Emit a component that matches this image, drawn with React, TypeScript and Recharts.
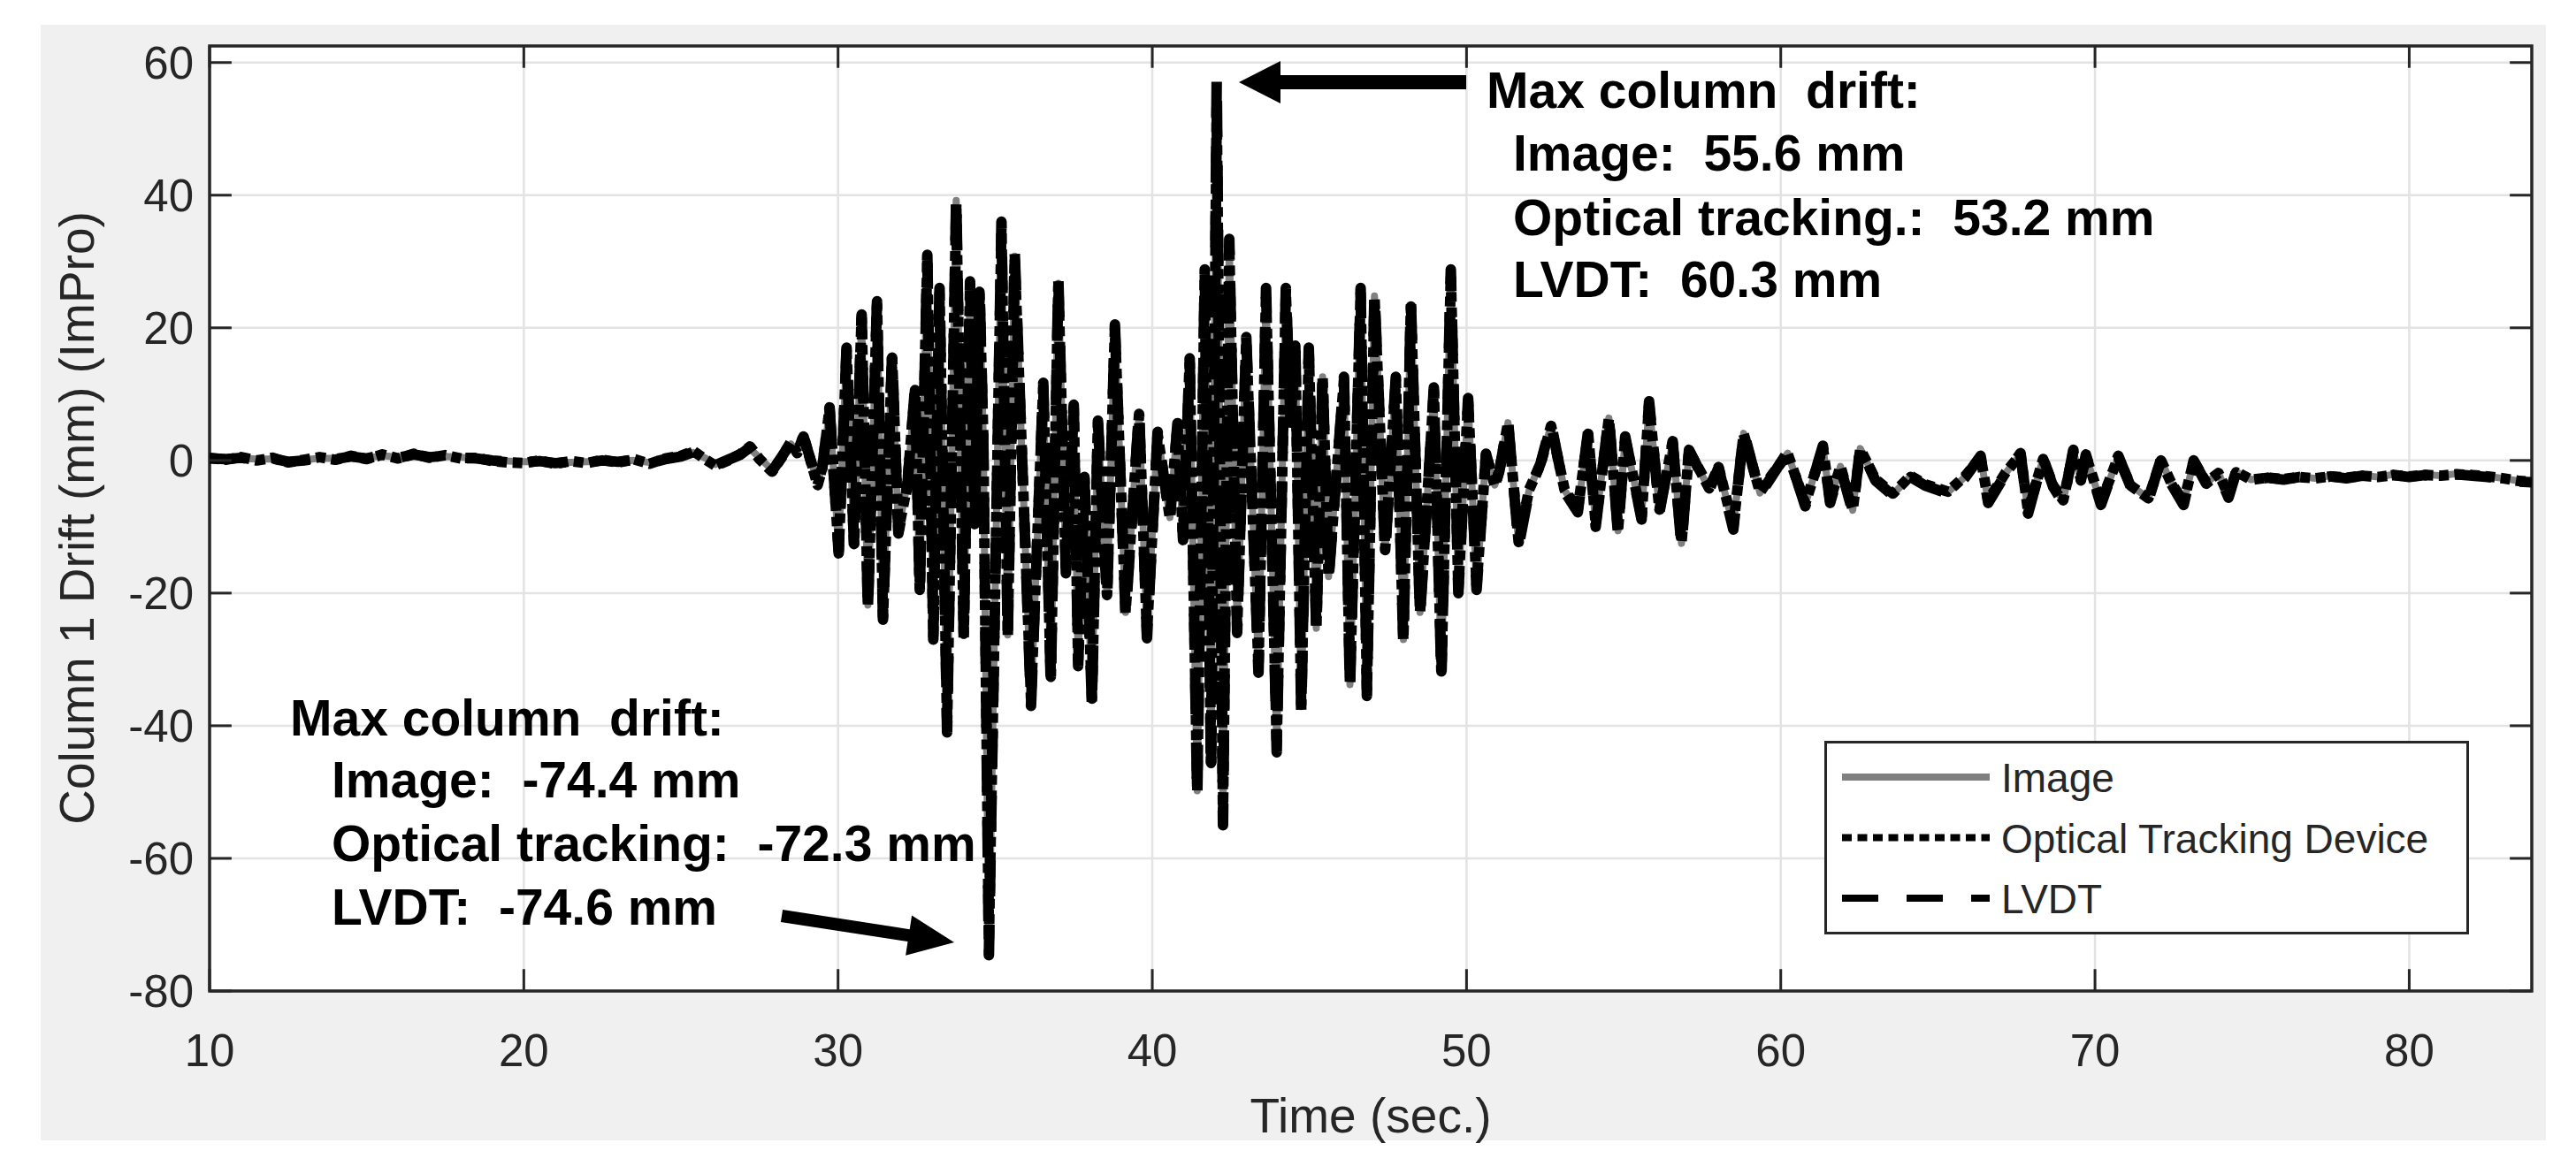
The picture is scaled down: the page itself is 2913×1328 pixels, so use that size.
import React from 'react';
import {
  LineChart,
  Line,
  XAxis,
  YAxis,
  CartesianGrid,
  ReferenceLine,
  ReferenceArea,
  Legend,
} from 'recharts';

// time (s) of each sample, shared by the three records
const time = [
  10, 10.5, 11, 11.5, 12, 12.5, 13, 13.5, 14, 14.5,
  15, 15.5, 16, 16.5, 17, 17.5, 18, 18.5, 19, 19.5,
  20, 20.5, 21, 21.5, 22, 22.5, 23, 23.5, 24, 24.5,
  25, 25.4, 25.8, 26.1, 26.5, 26.9, 27.2, 27.5, 27.9, 28.2,
  28.5, 28.7, 28.9, 29.1, 29.35, 29.5,
  29.73, 30.02, 30.27, 30.51, 30.75, 30.95, 31.24, 31.43, 31.72, 31.92,
  32.2, 32.45, 32.6, 32.84, 33.03, 33.23, 33.47, 33.76, 34.0, 34.2,
  34.35, 34.5, 34.62, 34.8, 35.2, 35.4, 35.62, 36.14, 36.53, 36.77,
  37.01, 37.25, 37.5, 37.64, 37.84, 38.08, 38.27, 38.56, 38.81, 39.15,
  39.58, 39.83, 40.17, 40.56, 40.8, 40.98, 41.19, 41.43, 41.67, 41.87,
  42.05, 42.25, 42.45, 42.7, 42.99, 43.38, 43.62, 43.96, 44.25, 44.4,
  44.55, 44.74, 44.98, 45.22, 45.42, 45.61, 45.85, 46.1, 46.29, 46.63,
  46.83, 47.07, 47.41, 47.75, 47.99, 48.23, 48.52, 48.75, 48.96, 49.2,
  49.5, 49.74, 50.05, 50.32, 50.62, 50.9, 51.05, 51.32, 51.66, 51.99,
  52.36, 52.69, 53.12, 53.54, 53.87, 54.11, 54.53, 54.82, 55.05, 55.57,
  55.81, 56.14, 56.56, 56.84, 57.08, 57.46, 57.72, 58.02, 58.49, 58.82,
  59.34, 59.7, 60.22, 60.78, 61.34, 61.57, 61.9, 62.29, 62.53, 63.01,
  63.57, 64.13, 64.6, 65.32, 65.88, 66.36, 66.6, 67.16, 67.63, 67.87,
  68.35, 68.67, 68.99, 69.31, 69.55, 69.71, 70.19, 70.74, 71.14, 71.7,
  72.1, 72.42, 72.82, 73.14, 73.54, 73.93, 74.25, 74.49, 74.97, 75.5,
  76, 76.5, 77, 77.5, 78, 78.5, 79, 79.5, 80, 80.5,
  81, 81.5, 82, 82.5, 83, 83.5, 83.9,
];

// column drift (mm), image processing
const imageDrift = [
  0.2, 0.3, 0.3, 0.2, 0.2, -0.1, 0.1, 0.3, 0.3, 0.5,
  0.4, 0.7, 0.5, 0.8, 0.6, 0.6, 0.5, 0.2, 0.1, -0.1,
  -0.2, -0.2, -0.3, -0.3, -0.2, -0.1, -0.1, 0.0, -0.3, 0.1,
  0.5, 1.2, 0.3, -0.6, 0.2, 0.8, 1.8, 0.4, -1.4, 0.6,
  2.5, 1.3, 3.3, 0.6, -3.3, -0.8,
  7.4, -13.2, 16.2, -12.4, 21.1, -21.8, 23.2, -23.1, 15.4, -10.5,
  -3.6, 10.4, -19.3, 30.1, -26.2, 25.4, -40.1, 39.2, -26.4, 26.2,
  -9.4, 25.7, 3.5, -74.4, 35.1, -26.3, 30.8, -36.2, 11.2, -32.9,
  26.7, -16.5, 8.0, -30.2, -2.4, -36.1, 5.6, -20.4, 19.8, -22.9,
  7.1, -26.0, 4.0, -8.6, 5.3, -11.5, 14.9, -49.8, 28.0, -45.9,
  55.6, -53.8, 32.5, -25.3, 18.0, -31.2, 25.3, -43.0, 25.2, 5.6,
  17.4, -37.1, 16.5, -25.3, 12.6, -17.5, -2.7, 12.2, -33.8, 25.3,
  -34.6, 24.8, -13.6, 12.1, -27.0, 23.3, -22.9, -5.7, 10.6, -32.0,
  28.1, -19.4, 9.0, -18.9, 0.8, -3.7, -1.3, 5.7, -12.4, -4.5,
  -0.3, 5.3, -4.5, -7.5, 4.1, -9.6, 6.4, -10.6, 3.4, -8.5,
  8.5, -7.5, 2.7, -12.5, 1.4, -1.9, -4.3, -1.0, -10.0, 4.1,
  -4.9, -2.4, 1.1, -6.6, 2.0, -6.1, -0.9, -7.5, 1.8, -2.9,
  -5.1, -2.4, -3.6, -4.8, -2.4, 0.5, -6.1, -1.9, 0.9, -7.7,
  0.3, -3.8, -6.1, 1.4, -2.9, 0.7, -6.4, 0.5, -3.8, -5.7,
  0.1, -3.4, -6.4, -0.1, -3.4, -1.9, -5.4, -1.7, -2.9, -2.5,
  -2.8, -2.4, -2.7, -2.3, -2.6, -2.2, -2.5, -2.1, -2.4, -2.1,
  -2.3, -2.0, -2.2, -2.4, -2.7, -3.1, -3.2,
];

// column drift (mm), optical tracking device
const opticalDrift = [
  0.4, 0.1, 0.5, 0.0, 0.4, -0.3, 0.1, 0.5, 0.1, 0.7,
  0.2, 0.9, 0.3, 1.0, 0.4, 0.8, 0.3, 0.4, -0.1, -0.3,
  -0.4, 0.0, -0.5, -0.1, -0.4, 0.1, -0.3, 0.2, -0.5, 0.3,
  0.7, 1.4, 0.1, -0.8, 0.0, 1.0, 2.1, 0.2, -1.7, 0.4,
  2.8, 1.1, 3.7, 0.4, -3.7, -1.1,
  7.8, -13.6, 16.5, -12.6, 21.5, -22.0, 23.4, -23.5, 15.5, -10.6,
  -3.8, 10.6, -19.5, 30.2, -26.4, 25.2, -39.8, 38.7, -26.1, 26.0,
  -9.6, 25.4, 3.8, -72.3, 34.6, -26.0, 30.4, -35.8, 11.0, -32.6,
  26.3, -16.4, 7.9, -30.0, -2.5, -35.9, 5.5, -20.3, 19.7, -22.7,
  7.0, -25.9, 3.9, -8.7, 5.2, -11.6, 14.7, -49.5, 27.6, -45.6,
  53.2, -53.3, 32.1, -25.1, 17.9, -31.0, 25.0, -42.6, 25.1, 5.7,
  17.3, -36.8, 16.3, -25.2, 12.4, -17.4, -2.8, 12.0, -33.5, 25.1,
  -34.4, 24.6, -13.5, 12.0, -26.8, 23.2, -22.8, -5.8, 10.5, -31.8,
  27.8, -19.3, 8.9, -18.8, 0.9, -3.8, -1.4, 5.6, -12.3, -4.4,
  -0.5, 5.2, -4.4, -7.4, 4.0, -9.5, 6.3, -10.5, 3.3, -8.5,
  8.4, -7.4, 2.6, -12.4, 1.4, -1.8, -4.2, -1.0, -9.9, 4.0,
  -4.8, -2.3, 1.0, -6.5, 1.9, -6.0, -0.9, -7.4, 1.7, -2.8,
  -5.0, -2.3, -3.6, -4.7, -2.3, 0.5, -6.0, -1.8, 0.9, -7.6,
  0.2, -3.8, -6.0, 1.3, -2.8, 0.7, -6.3, 0.5, -3.8, -5.7,
  0.0, -3.3, -6.3, -0.1, -3.3, -1.9, -5.3, -1.7, -2.9, -2.6,
  -2.8, -2.5, -2.7, -2.4, -2.6, -2.3, -2.5, -2.2, -2.4, -2.2,
  -2.3, -2.1, -2.2, -2.4, -2.7, -3.1, -3.2,
];

// column drift (mm), LVDT
const lvdtDrift = [
  0.3, 0.2, 0.4, 0.1, 0.3, -0.2, 0.0, 0.4, 0.2, 0.6,
  0.3, 0.8, 0.4, 0.9, 0.5, 0.7, 0.4, 0.3, 0.0, -0.2,
  -0.3, -0.1, -0.4, -0.2, -0.3, 0.0, -0.2, 0.1, -0.4, 0.2,
  0.6, 1.3, 0.2, -0.7, 0.1, 0.9, 2.0, 0.3, -1.6, 0.5,
  2.7, 1.2, 3.6, 0.5, -3.6, -1.0,
  8.0, -14, 17, -13, 22, -22.6, 24, -24, 16, -11,
  -4, 11, -20, 31, -27, 26, -41, 40, -27, 27,
  -10, 26.5, 4, -74.6, 36, -27, 31.6, -37, 11.7, -33.7,
  27.4, -17, 8.4, -31, -2.7, -37, 6, -21, 20.5, -23.5,
  7.5, -26.8, 4.3, -9, 5.6, -12, 15.4, -51, 28.8, -47,
  57.8, -55, 33.4, -26, 18.6, -32, 26, -44, 26, 6,
  18, -38, 17, -26, 13, -18, -3, 12.6, -34.6, 26,
  -35.5, 25.5, -14, 12.6, -27.7, 24, -23.5, -6, 11, -32.8,
  28.8, -20, 9.4, -19.5, 1.0, -4, -1.5, 6, -12.9, -4.7,
  -0.4, 5.6, -4.7, -7.8, 4.4, -10, 6.7, -11, 3.6, -8.9,
  8.9, -7.8, 2.9, -13, 1.6, -2, -4.5, -1.1, -10.4, 4.4,
  -5.1, -2.5, 1.3, -6.9, 2.2, -6.4, -1, -7.8, 2, -3,
  -5.3, -2.5, -3.8, -5, -2.5, 0.7, -6.4, -2, 1.1, -8,
  0.4, -4, -6.4, 1.6, -3, 0.9, -6.7, 0.7, -4, -6,
  0.2, -3.5, -6.7, 0, -3.5, -2, -5.6, -1.8, -3, -2.6,
  -2.9, -2.5, -2.8, -2.4, -2.7, -2.3, -2.6, -2.2, -2.5, -2.2,
  -2.4, -2.1, -2.3, -2.5, -2.8, -3.2, -3.3,
];

const xTicks = [10, 20, 30, 40, 50, 60, 70, 80];
const yTicks = [-80, -60, -40, -20, 0, 20, 40, 60];
const xDomain: [number, number] = [10, 83.9];
const yDomain: [number, number] = [-80, 62.5];

const xLabel = 'Time (sec.)';
const yLabel = 'Column 1 Drift (mm) (ImPro)';

// double spaces kept with a no-break space
const topNote = [
  'Max column\u00a0 drift:',
  'Image:\u00a0 55.6 mm',
  'Optical tracking.:\u00a0 53.2 mm',
  'LVDT:\u00a0 60.3 mm',
];
const bottomNote = [
  'Max column\u00a0 drift:',
  'Image:\u00a0 -74.4 mm',
  'Optical tracking:\u00a0 -72.3 mm',
  'LVDT:\u00a0 -74.6 mm',
];

const series = [
  { key: 'image', name: 'Image', stroke: '#808080', width: 8, dash: undefined as string | undefined },
  { key: 'optical', name: 'Optical Tracking Device', stroke: '#000000', width: 12, dash: '11 6.5' },
  { key: 'lvdt', name: 'LVDT', stroke: '#000000', width: 12, dash: '41 32' },
];

const chartData = time.map((t, i) => ({
  t,
  image: imageDrift[i],
  optical: opticalDrift[i],
  lvdt: lvdtDrift[i],
}));

const FONT = "'Liberation Sans', Arial, Helvetica, sans-serif";
const AXIS_COLOR = '#262626';

// inward tick marks, in data units
const xTickLen = 0.7;
const yTickLen = 3.3;

function arrowPolygon(tail: number[], tip: number[], shaftHalf: number, headLen: number, headHalf: number) {
  const dx = tip[0] - tail[0];
  const dy = tip[1] - tail[1];
  const len = Math.hypot(dx, dy);
  const ux = dx / len;
  const uy = dy / len;
  const nx = -uy;
  const ny = ux;
  const bx = tip[0] - ux * headLen;
  const by = tip[1] - uy * headLen;
  const pts = [
    [tail[0] + nx * shaftHalf, tail[1] + ny * shaftHalf],
    [bx + nx * shaftHalf, by + ny * shaftHalf],
    [bx + nx * headHalf, by + ny * headHalf],
    tip,
    [bx - nx * headHalf, by - ny * headHalf],
    [bx - nx * shaftHalf, by - ny * shaftHalf],
    [tail[0] - nx * shaftHalf, tail[1] - ny * shaftHalf],
  ];
  return pts.map((p) => `${p[0].toFixed(1)},${p[1].toFixed(1)}`).join(' ');
}

function LegendBox() {
  return (
    <svg width={729} height={219} style={{ display: 'block' }}>
      <rect x={1.5} y={1.5} width={726} height={216} fill="#ffffff" stroke={AXIS_COLOR} strokeWidth={3} />
      {series.map((s, i) => {
        const cy = 41 + i * 68.5;
        return (
          <g key={s.key}>
            <line x1={20} x2={187} y1={cy} y2={cy} stroke={s.stroke} strokeWidth={8} strokeDasharray={s.dash} />
            <text x={200} y={cy + 17} fontSize={46} fill={AXIS_COLOR} fontFamily={FONT}>
              {s.name}
            </text>
          </g>
        );
      })}
    </svg>
  );
}

const tickStyle = { fill: AXIS_COLOR, fontSize: 51, fontFamily: FONT };

export default function App() {
  return (
    <div style={{ position: 'absolute', left: 0, top: 0, width: 2913, height: 1328, background: '#ffffff', overflow: 'hidden' }}>
      <div style={{ position: 'absolute', left: 46, top: 28, width: 2833, height: 1262, background: '#f0f0f0' }} />
      <div style={{ position: 'absolute', left: 237, top: 52, width: 2626, height: 1069, background: '#ffffff' }} />
      <div style={{ position: 'absolute', left: 0, top: 0 }}>
        <LineChart width={2913} height={1328} data={chartData} margin={{ top: 52, right: 50, bottom: 87, left: 117 }}>
          <CartesianGrid stroke="#e3e3e3" strokeWidth={2.5} />
          <XAxis
            dataKey="t"
            type="number"
            domain={xDomain}
            ticks={xTicks}
            allowDataOverflow
            height={120}
            axisLine={false}
            tickLine={false}
            tickSize={0}
            tickMargin={49}
            tick={tickStyle}
          />
          <YAxis
            type="number"
            domain={yDomain}
            ticks={yTicks}
            allowDataOverflow
            width={120}
            axisLine={false}
            tickLine={false}
            tickSize={0}
            tickMargin={18}
            tick={tickStyle}
          />
          {series.map((s) => (
            <Line
              key={s.key}
              type="linear"
              dataKey={s.key}
              name={s.name}
              stroke={s.stroke}
              strokeWidth={s.width}
              strokeDasharray={s.dash}
              strokeLinejoin="round"
              dot={false}
              activeDot={false}
              isAnimationActive={false}
            />
          ))}
          {yTicks.map((v) => (
            <ReferenceLine
              key={`yl${v}`}
              segment={[{ x: xDomain[0], y: v }, { x: xDomain[0] + xTickLen, y: v }]}
              stroke={AXIS_COLOR}
              strokeWidth={3}
            />
          ))}
          {yTicks.map((v) => (
            <ReferenceLine
              key={`yr${v}`}
              segment={[{ x: xDomain[1] - xTickLen, y: v }, { x: xDomain[1], y: v }]}
              stroke={AXIS_COLOR}
              strokeWidth={3}
            />
          ))}
          {xTicks.map((t) => (
            <ReferenceLine
              key={`xb${t}`}
              segment={[{ x: t, y: yDomain[0] }, { x: t, y: yDomain[0] + yTickLen }]}
              stroke={AXIS_COLOR}
              strokeWidth={3}
            />
          ))}
          {xTicks.map((t) => (
            <ReferenceLine
              key={`xt${t}`}
              segment={[{ x: t, y: yDomain[1] - yTickLen }, { x: t, y: yDomain[1] }]}
              stroke={AXIS_COLOR}
              strokeWidth={3}
            />
          ))}
          <ReferenceArea
            x1={xDomain[0]}
            x2={xDomain[1]}
            y1={yDomain[0]}
            y2={yDomain[1]}
            fill="none"
            fillOpacity={0}
            stroke={AXIS_COLOR}
            strokeWidth={3.5}
          />
          <Legend
            layout="vertical"
            align="center"
            verticalAlign="middle"
            content={() => <LegendBox />}
            wrapperStyle={{ left: 2063, top: 838, width: 729, height: 219, lineHeight: 0 }}
          />
        </LineChart>
      </div>
      <svg
        width={2913}
        height={1328}
        style={{ position: 'absolute', left: 0, top: 0, pointerEvents: 'none' }}
      >
        <text
          x={87}
          y={586}
          transform="rotate(-90 87 586)"
          textAnchor="middle"
          dominantBaseline="central"
          fontSize={55}
          fill={AXIS_COLOR}
          fontFamily={FONT}
        >
          {yLabel}
        </text>
        <text x={1550} y={1281} textAnchor="middle" fontSize={55} fill={AXIS_COLOR} fontFamily={FONT}>
          {xLabel}
        </text>

        <polygon points={arrowPolygon([1658, 93], [1401, 93], 8, 47, 24)} fill="#000000" />
        <polygon points={arrowPolygon([884, 1036], [1079, 1066], 7, 52, 23)} fill="#000000" />

        <g fontFamily={FONT} fontWeight="bold" fontSize={57} fill="#000000">
          <text x={1681} y={122}>{topNote[0]}</text>
          <text x={1711} y={193}>{topNote[1]}</text>
          <text x={1711} y={266}>{topNote[2]}</text>
          <text x={1711} y={336}>{topNote[3]}</text>

          <text x={328} y={832}>{bottomNote[0]}</text>
          <text x={375} y={902}>{bottomNote[1]}</text>
          <text x={375} y={974}>{bottomNote[2]}</text>
          <text x={375} y={1046}>{bottomNote[3]}</text>
        </g>
      </svg>
    </div>
  );
}
